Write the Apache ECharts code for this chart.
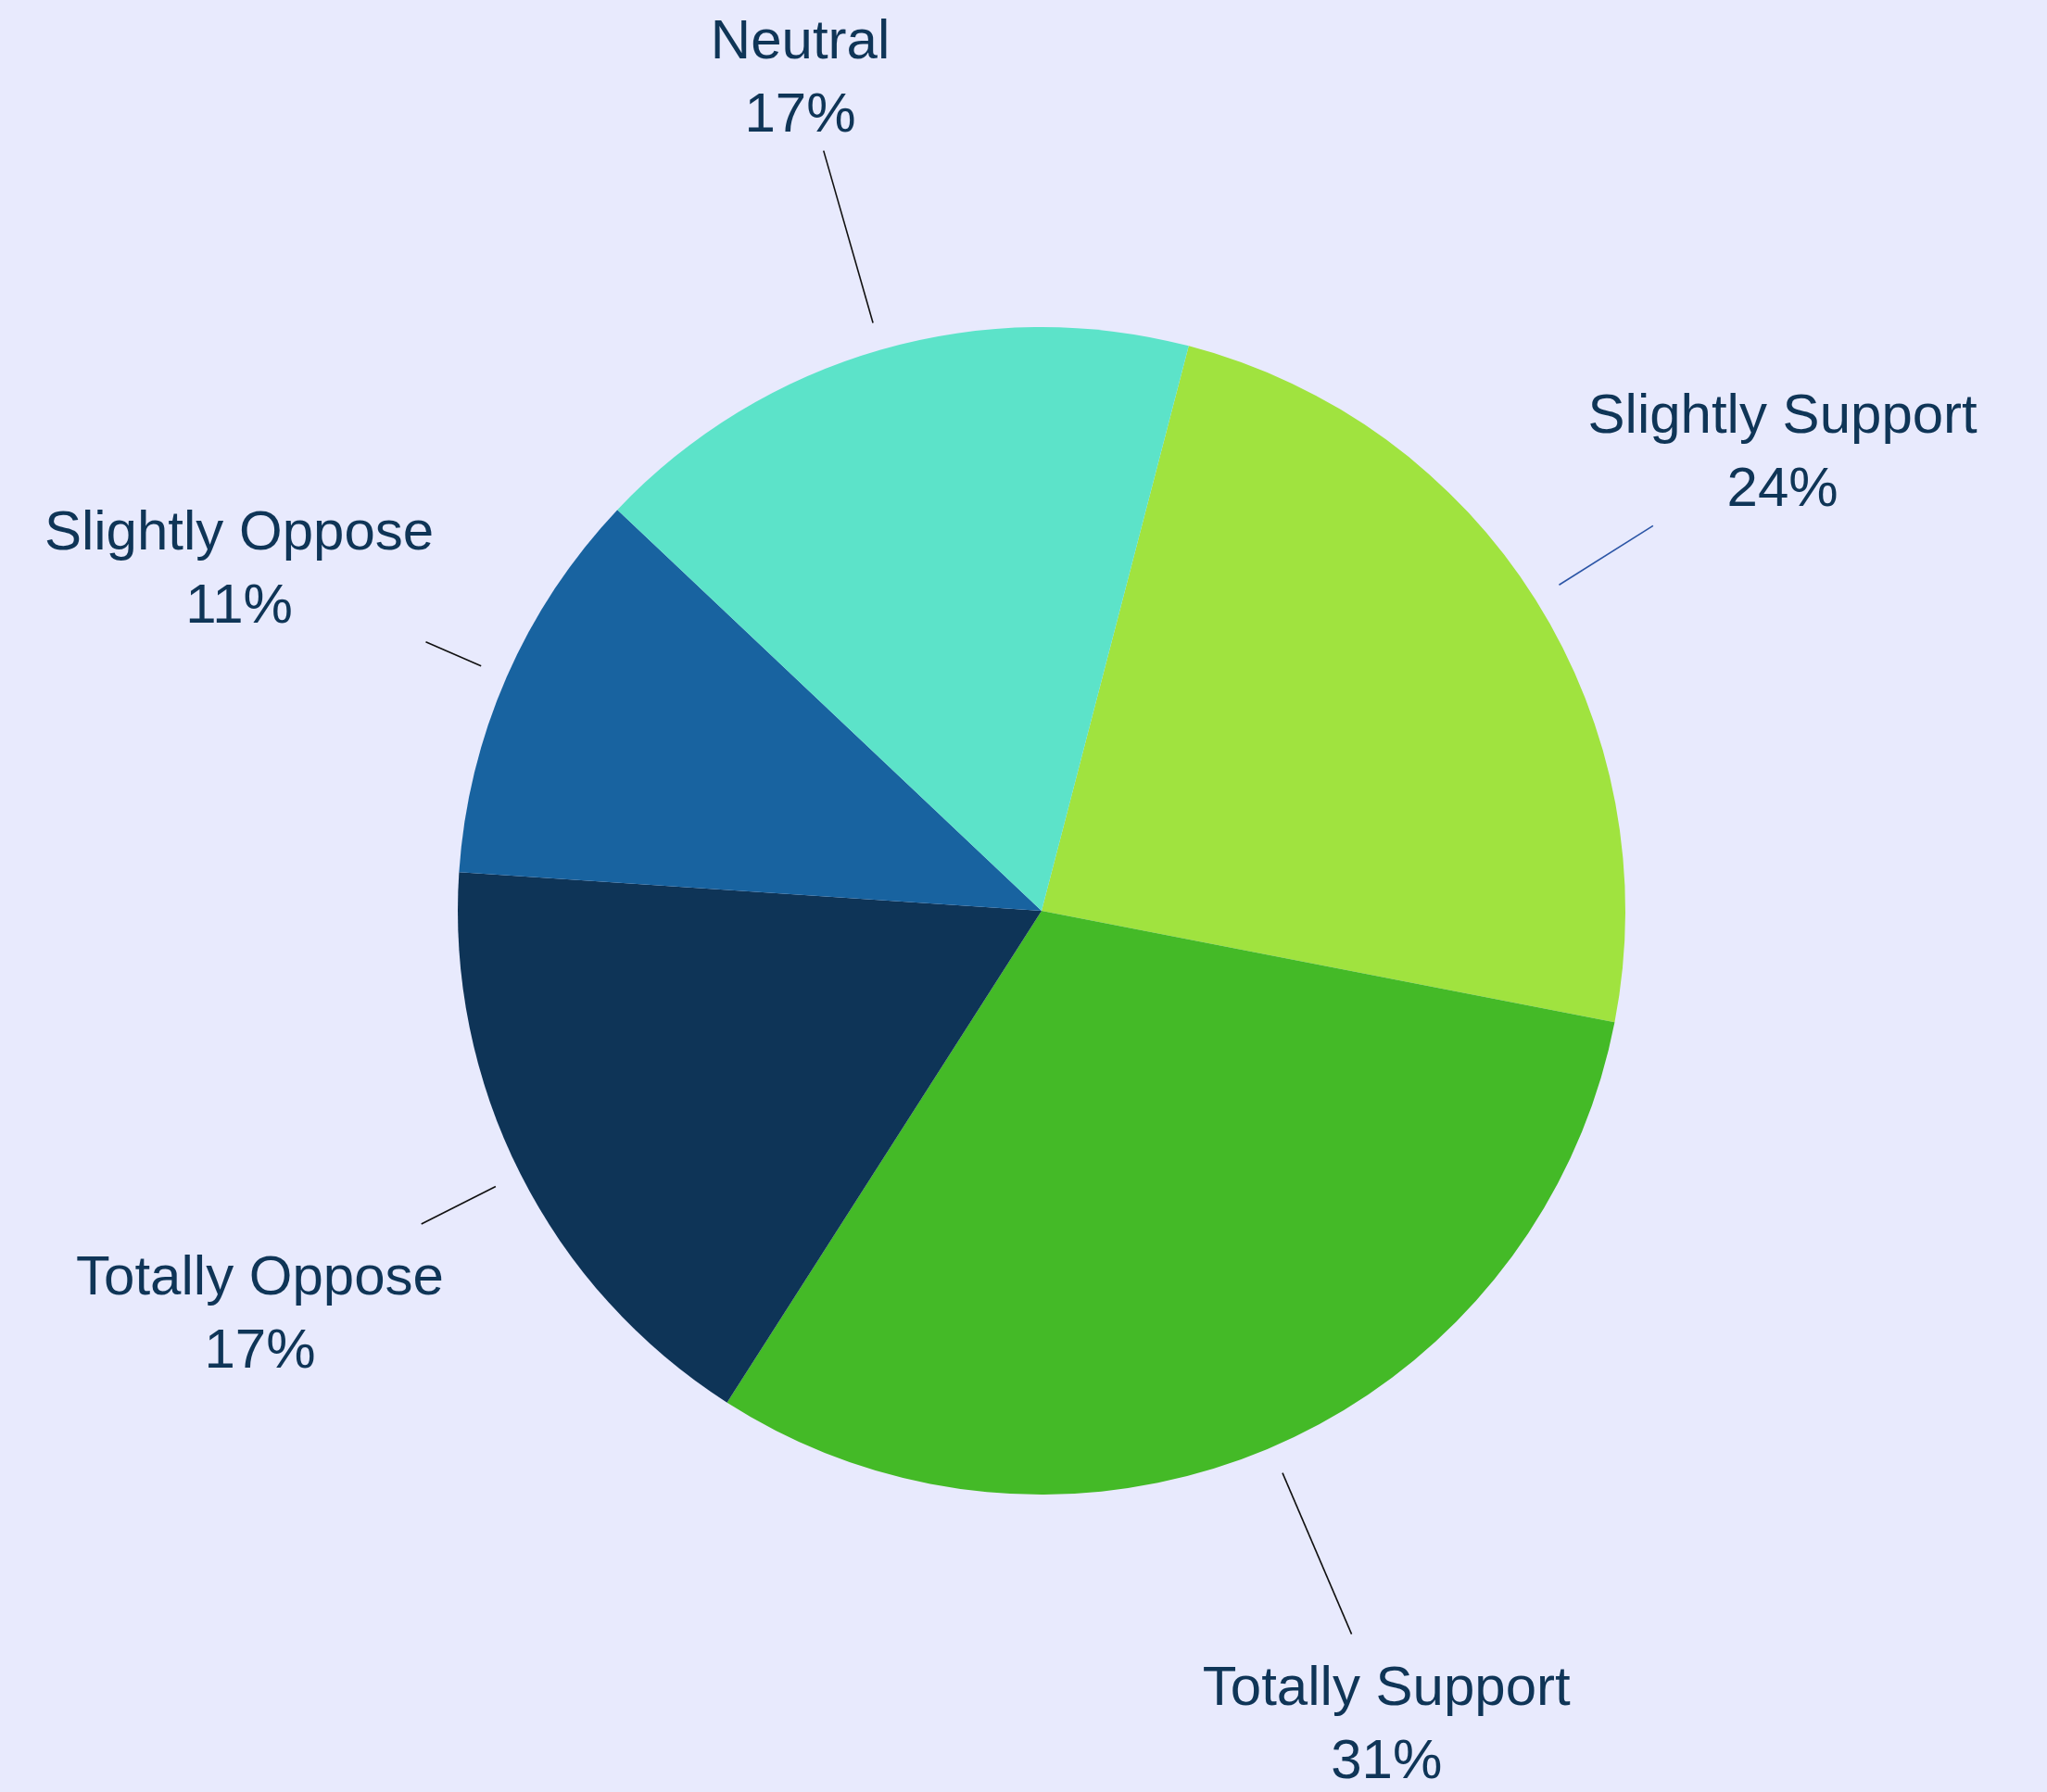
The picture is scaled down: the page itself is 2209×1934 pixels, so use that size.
<!DOCTYPE html>
<html>
<head>
<meta charset="utf-8">
<script src="https://cdn.jsdelivr.net/npm/echarts@6/dist/echarts.min.js"></script>
<style>
  html, body { margin: 0; padding: 0; background: #E8EAFD; }
  #chart { width: 2209px; height: 1934px; }
</style>
</head>
<body>
<div id="chart"></div>
<script>
// Data (clockwise order, starting from the top-right)
const categories = ['Slightly Support', 'Totally Support', 'Totally Oppose', 'Slightly Oppose', 'Neutral'];
const shares = [24, 31, 17, 11, 17];

// Styles
const sliceColors = ['#A0E33F', '#44BA27', '#0E3457', '#1863A0', '#5CE3C9'];
const lineColors = ['#2B55A6', '#111111', '#111111', '#111111', '#111111'];

const R = 630;          // pie radius (px)
const LINE_GAP = 30;    // gap between pie edge and leader line
const LABEL_R = 945;    // label centre distance from pie centre
const PAD = 9;          // padding between line end and label box
const TEXT_DY = 11;     // optical correction of text block centre

const chart = echarts.init(document.getElementById('chart'), null, { renderer: 'canvas' });

const data = categories.map((name, i) => ({
  name: name,
  value: shares[i],
  itemStyle: { color: sliceColors[i] },
  labelLine: { lineStyle: { color: lineColors[i] } }
}));

chart.setOption({
  backgroundColor: '#E8EAFD',
  animation: false,
  series: [{
    type: 'pie',
    center: [1124, 983],
    radius: R,
    startAngle: 75.4,
    clockwise: true,
    avoidLabelOverlap: false,
    silent: true,
    data: data,
    itemStyle: { borderWidth: 0 },
    label: {
      show: true,
      position: 'outside',
      formatter: p => p.name + '\n' + Math.round(p.percent) + '%',
      fontFamily: 'Liberation Sans',
      fontSize: 60,
      lineHeight: 79,
      color: '#0F3557',
      align: 'center'
    },
    labelLine: {
      show: true,
      length: 100,
      length2: 0,
      smooth: false,
      lineStyle: { width: 1.6 }
    },
    labelLayout: function (p) {
      const pts = p.labelLinePoints;
      if (!pts || pts.length < 2) return {};
      const dx0 = pts[1][0] - pts[0][0];
      const dy0 = pts[1][1] - pts[0][1];
      const len = Math.hypot(dx0, dy0) || 1;
      const nx = dx0 / len, ny = dy0 / len;
      const cx = pts[0][0] - nx * R, cy = pts[0][1] - ny * R;
      const lx = cx + nx * LABEL_R, ly = cy + ny * LABEL_R;
      const hw = p.labelRect.width / 2 + PAD;
      const hh = p.labelRect.height / 2 + PAD;
      const tx = Math.abs(nx) > 1e-6 ? hw / Math.abs(nx) : Infinity;
      const ty = Math.abs(ny) > 1e-6 ? hh / Math.abs(ny) : Infinity;
      const t = Math.min(tx, ty);
      const ex = lx - nx * t, ey = ly - ny * t;
      const sx = cx + nx * (R + LINE_GAP), sy = cy + ny * (R + LINE_GAP);
      return {
        x: lx,
        y: ly + TEXT_DY,
        align: 'center',
        verticalAlign: 'middle',
        labelLinePoints: [[sx, sy], [ex, ey]]
      };
    }
  }]
});
</script>
</body>
</html>
